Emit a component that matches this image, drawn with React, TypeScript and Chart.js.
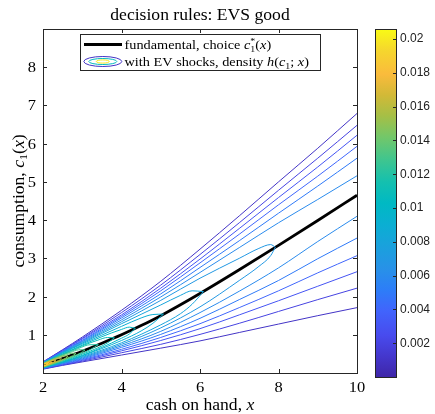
import React, { useEffect, useRef } from 'react';
import { Chart, registerables } from 'chart.js';

Chart.register(...registerables);

// ---------- axes ----------
const X_MIN = 2;
const X_MAX = 10;
const Y_MIN = 0;
const Y_MAX = 9;
const X_TICKS = [2, 4, 6, 8, 10];
const Y_TICKS = [1, 2, 3, 4, 5, 6, 7, 8];

// ---------- colorbar ----------
const CB_MIN = 0;
const CB_MAX = 0.0206;
const CB_TICKS = [0.002, 0.004, 0.006, 0.008, 0.01, 0.012, 0.014, 0.016, 0.018, 0.02];
const CB_TICK_LABELS = ['0.002', '0.004', '0.006', '0.008', '0.01', '0.012', '0.014', '0.016', '0.018', '0.02'];

// ---------- fundamental decision rule c1*(x) ----------
const FUND_X = [2, 2.5, 3, 3.5, 4, 4.5, 5, 6, 7, 8, 9, 10];
const FUND_Y = [0.20, 0.38, 0.57, 0.78, 1.00, 1.24, 1.50, 2.08, 2.70, 3.34, 3.99, 4.65];

// ---------- density contours h(c1; x) ----------
// contour levels
const LEVELS = [0.001, 0.002, 0.003, 0.004, 0.005, 0.006, 0.007, 0.008, 0.009, 0.010,
  0.011, 0.012, 0.013, 0.014, 0.015, 0.016, 0.017, 0.018, 0.019, 0.020];

// open contours (reach x = 10)
const X_OPEN = [2, 2.5, 3, 4, 5, 6, 7, 8, 9, 10];
const C1_UP = [0.29, 0.61, 0.94, 1.64, 2.40, 3.24, 4.11, 5.00, 5.88, 6.79];
const C1_LO = [0.10, 0.20, 0.29, 0.47, 0.65, 0.84, 1.06, 1.28, 1.50, 1.71];
const C2_UP = [0.29, 0.60, 0.91, 1.58, 2.30, 3.10, 3.93, 4.78, 5.62, 6.48];
const C2_LO = [0.11, 0.21, 0.31, 0.53, 0.75, 1.01, 1.30, 1.61, 1.92, 2.22];
const C3_UP = [0.28, 0.58, 0.89, 1.52, 2.22, 2.98, 3.78, 4.59, 5.39, 6.22];
const C3_LO = [0.11, 0.22, 0.33, 0.58, 0.85, 1.16, 1.52, 1.89, 2.27, 2.65];
const C4_UP = [0.28, 0.57, 0.86, 1.48, 2.15, 2.88, 3.63, 4.40, 5.15, 5.93];
const C4_LO = [0.12, 0.24, 0.35, 0.62, 0.93, 1.29, 1.71, 2.15, 2.62, 3.07];
const C5_UP = [0.27, 0.56, 0.84, 1.44, 2.07, 2.76, 3.46, 4.18, 4.89, 5.62];
const C5_LO = [0.12, 0.25, 0.37, 0.67, 1.01, 1.43, 1.92, 2.42, 2.99, 3.53];
const C6_UP = [0.27, 0.55, 0.82, 1.39, 1.99, 2.63, 3.28, 3.93, 4.54, 5.16];
const C6_LO = [0.13, 0.26, 0.39, 0.71, 1.09, 1.58, 2.14, 2.75, 3.44, 4.10];

// closed contours (tip on the fundamental rule)
const C7_X = [2, 2.5, 3, 4, 5, 6, 7, 7.5, 7.8, 7.92];
const C7_UP = [0.27, 0.54, 0.80, 1.34, 1.90, 2.48, 3.00, 3.26, 3.36, 3.29];
const C7_LO = [0.13, 0.27, 0.41, 0.75, 1.18, 1.73, 2.42, 2.79, 3.07, 3.29];
const C8_X = [2, 2.5, 3, 4, 5, 5.5, 5.8, 6.09];
const C8_UP = [0.26, 0.53, 0.78, 1.29, 1.78, 2.03, 2.15, 2.13];
const C8_LO = [0.13, 0.28, 0.43, 0.79, 1.26, 1.55, 1.80, 2.13];
const C9_X = [2, 2.5, 3, 4, 4.5, 4.8, 5.07];
const C9_UP = [0.26, 0.52, 0.76, 1.22, 1.44, 1.53, 1.54];
const C9_LO = [0.14, 0.28, 0.45, 0.85, 1.10, 1.30, 1.54];
const C10_X = [2, 2.5, 3, 3.5, 4, 4.2, 4.35];
const C10_UP = [0.26, 0.50, 0.73, 0.95, 1.14, 1.20, 1.17];
const C10_LO = [0.14, 0.29, 0.46, 0.67, 0.91, 1.02, 1.17];
const C11_X = [2, 2.5, 3, 3.4, 3.65, 3.82];
const C11_UP = [0.25, 0.49, 0.71, 0.86, 0.93, 0.92];
const C11_LO = [0.15, 0.30, 0.49, 0.66, 0.79, 0.92];
const C12_X = [2, 2.5, 2.9, 3.2, 3.41];
const C12_UP = [0.25, 0.48, 0.64, 0.74, 0.74];
const C12_LO = [0.15, 0.32, 0.47, 0.61, 0.74];
const C13_X = [2, 2.4, 2.75, 2.95, 3.07];
const C13_UP = [0.25, 0.43, 0.56, 0.61, 0.60];
const C13_LO = [0.15, 0.29, 0.43, 0.52, 0.60];
const C14_X = [2, 2.3, 2.6, 2.75, 2.84];
const C14_UP = [0.24, 0.38, 0.48, 0.52, 0.51];
const C14_LO = [0.16, 0.26, 0.38, 0.45, 0.51];
const C15_X = [2, 2.25, 2.45, 2.58, 2.64];
const C15_UP = [0.24, 0.35, 0.42, 0.45, 0.435];
const C15_LO = [0.16, 0.25, 0.33, 0.39, 0.435];
const C16_X = [2, 2.2, 2.35, 2.44, 2.47];
const C16_UP = [0.236, 0.32, 0.37, 0.384, 0.37];
const C16_LO = [0.166, 0.243, 0.305, 0.345, 0.37];
const C17_X = [2, 2.15, 2.27, 2.33];
const C17_UP = [0.232, 0.291, 0.326, 0.32];
const C17_LO = [0.171, 0.228, 0.283, 0.32];
const C18_X = [2, 2.12, 2.23];
const C18_UP = [0.227, 0.271, 0.285];
const C18_LO = [0.176, 0.225, 0.285];
const C19_X = [2, 2.08, 2.14];
const C19_UP = [0.221, 0.247, 0.25];
const C19_LO = [0.181, 0.217, 0.25];
const C20_X = [2, 2.03];
const C20_UP = [0.213, 0.211];
const C20_LO = [0.189, 0.211];

const CONTOURS: [number[], number[], number[]][] = [
  [X_OPEN, C1_UP, C1_LO], [X_OPEN, C2_UP, C2_LO], [X_OPEN, C3_UP, C3_LO],
  [X_OPEN, C4_UP, C4_LO], [X_OPEN, C5_UP, C5_LO], [X_OPEN, C6_UP, C6_LO],
  [C7_X, C7_UP, C7_LO], [C8_X, C8_UP, C8_LO], [C9_X, C9_UP, C9_LO],
  [C10_X, C10_UP, C10_LO], [C11_X, C11_UP, C11_LO], [C12_X, C12_UP, C12_LO],
  [C13_X, C13_UP, C13_LO], [C14_X, C14_UP, C14_LO], [C15_X, C15_UP, C15_LO],
  [C16_X, C16_UP, C16_LO], [C17_X, C17_UP, C17_LO], [C18_X, C18_UP, C18_LO],
  [C19_X, C19_UP, C19_LO], [C20_X, C20_UP, C20_LO],
];

// ---------- styling ----------
const PARULA: [number, number, number, number][] = [
  [0.00, 62, 38, 168], [0.06, 68, 55, 205], [0.12, 72, 75, 238], [0.19, 65, 100, 252],
  [0.25, 45, 125, 248], [0.31, 40, 145, 232], [0.38, 25, 162, 220], [0.44, 10, 175, 210],
  [0.50, 0, 185, 195], [0.56, 20, 192, 175], [0.62, 60, 197, 145], [0.69, 115, 199, 105],
  [0.75, 165, 191, 70], [0.81, 210, 185, 55], [0.87, 250, 187, 60], [0.94, 245, 215, 45],
  [1.00, 249, 251, 21],
];

function parula(t: number): string {
  const u = Math.max(0, Math.min(1, t));
  for (let i = 1; i < PARULA.length; i++) {
    if (u <= PARULA[i][0]) {
      const a = PARULA[i - 1];
      const b = PARULA[i];
      const f = (u - a[0]) / (b[0] - a[0]);
      const r = Math.round(a[1] + f * (b[1] - a[1]));
      const g = Math.round(a[2] + f * (b[2] - a[2]));
      const bb = Math.round(a[3] + f * (b[3] - a[3]));
      return `rgb(${r},${g},${bb})`;
    }
  }
  return 'rgb(249,251,21)';
}

const levelColor = (v: number) => parula((v - CB_MIN) / (CB_MAX - CB_MIN));

const SERIF = '"Liberation Serif", "Times New Roman", serif';
const SANS = '"Liberation Sans", Arial, sans-serif';
const STRETCH = 1.1;
const AXIS_COLOR = '#262626';

type Seg = { t: string; it?: boolean; size?: number; dy?: number; adv?: boolean };

function drawRich(ctx: CanvasRenderingContext2D, segs: Seg[], x: number, y: number, size: number, align: 'left' | 'center' | 'right') {
  const widths = segs.map((s) => {
    ctx.font = `${s.it ? 'italic ' : ''}${s.size ?? size}px ${SERIF}`;
    return ctx.measureText(s.t).width;
  });
  let w = 0;
  segs.forEach((s, i) => { if (s.adv !== false) w += widths[i]; });
  const total = w * STRETCH;
  const start = align === 'left' ? x : align === 'center' ? x - total / 2 : x - total;
  ctx.save();
  ctx.translate(start, y);
  ctx.scale(STRETCH, 1);
  ctx.textAlign = 'left';
  ctx.textBaseline = 'alphabetic';
  ctx.fillStyle = '#000';
  let cx = 0;
  segs.forEach((s, i) => {
    ctx.font = `${s.it ? 'italic ' : ''}${s.size ?? size}px ${SERIF}`;
    ctx.fillText(s.t, cx, s.dy ?? 0);
    if (s.adv !== false) cx += widths[i];
  });
  ctx.restore();
}

const decor = {
  id: 'decor',
  afterDraw(chart: any) {
    const ctx: CanvasRenderingContext2D = chart.ctx;
    const { left, right, top, bottom } = chart.chartArea;
    const xs = chart.scales.x;
    const ys = chart.scales.y;
    ctx.save();

    // axes box
    ctx.strokeStyle = AXIS_COLOR;
    ctx.lineWidth = 1;
    ctx.strokeRect(left + 0.5, top + 0.5, right - left, bottom - top);

    // ticks (inward, both sides)
    const TL = 4;
    ctx.beginPath();
    X_TICKS.forEach((v) => {
      const px = Math.round(xs.getPixelForValue(v)) + 0.5;
      ctx.moveTo(px, bottom); ctx.lineTo(px, bottom - TL);
      ctx.moveTo(px, top); ctx.lineTo(px, top + TL);
    });
    Y_TICKS.forEach((v) => {
      const py = Math.round(ys.getPixelForValue(v)) + 0.5;
      ctx.moveTo(left, py); ctx.lineTo(left + TL, py);
      ctx.moveTo(right, py); ctx.lineTo(right - TL, py);
    });
    ctx.stroke();

    // tick labels
    X_TICKS.forEach((v) => {
      drawRich(ctx, [{ t: String(v) }], xs.getPixelForValue(v), bottom + 19, 15, 'center');
    });
    Y_TICKS.forEach((v) => {
      drawRich(ctx, [{ t: String(v) }], left - 7, ys.getPixelForValue(v) + 5, 15, 'right');
    });

    // title
    drawRich(ctx, [{ t: 'decision rules: EVS good' }], (left + right) / 2, 20, 16, 'center');

    // x label
    drawRich(ctx, [{ t: 'cash on hand, ' }, { t: 'x', it: true }], (left + right) / 2, 410, 16, 'center');

    // y label (rotated)
    ctx.save();
    ctx.translate(24, (top + bottom) / 2);
    ctx.rotate(-Math.PI / 2);
    drawRich(ctx, [
      { t: 'consumption, ' }, { t: 'c', it: true }, { t: '1', size: 11, dy: 3 },
      { t: '(' }, { t: 'x', it: true }, { t: ')' },
    ], 0, 0, 16, 'center');
    ctx.restore();

    // legend
    const lx0 = 80.5, ly0 = 34.5, lw = 240, lh = 36;
    ctx.fillStyle = '#fff';
    ctx.fillRect(lx0, ly0, lw, lh);
    ctx.strokeStyle = AXIS_COLOR;
    ctx.lineWidth = 1;
    ctx.strokeRect(lx0, ly0, lw, lh);
    ctx.strokeStyle = '#000';
    ctx.lineWidth = 2.8;
    ctx.beginPath();
    ctx.moveTo(84, 44.5); ctx.lineTo(122, 44.5);
    ctx.stroke();
    ctx.lineWidth = 1;
    const ell = (rx: number, ry: number, col: string) => {
      ctx.strokeStyle = col;
      ctx.beginPath();
      ctx.ellipse(102.8, 61.5, rx, ry, 0, 0, Math.PI * 2);
      ctx.stroke();
    };
    ell(19, 5, levelColor(0.001));
    ell(14, 3, levelColor(0.0105));
    ell(6.5, 1.6, levelColor(0.020));
    drawRich(ctx, [
      { t: 'fundamental, choice ' }, { t: 'c', it: true },
      { t: '*', size: 9, dy: -5, adv: false }, { t: '1', size: 9, dy: 3 },
      { t: '(' }, { t: 'x', it: true }, { t: ')' },
    ], 124.5, 48.5, 13, 'left');
    drawRich(ctx, [
      { t: 'with EV shocks, density ' }, { t: 'h', it: true }, { t: '(' },
      { t: 'c', it: true }, { t: '1', size: 9, dy: 3 }, { t: '; ' },
      { t: 'x', it: true }, { t: ')' },
    ], 124.5, 66, 13, 'left');

    // colorbar
    const cbL = 375, cbR = 396, cbT = top, cbB = bottom + 4;
    const cbPix = (v: number) => cbB - ((v - CB_MIN) / (CB_MAX - CB_MIN)) * (cbB - cbT);
    const grad = ctx.createLinearGradient(0, cbB, 0, cbT);
    PARULA.forEach((s) => grad.addColorStop(s[0], `rgb(${s[1]},${s[2]},${s[3]})`));
    ctx.fillStyle = grad;
    ctx.fillRect(cbL, cbT, cbR - cbL, cbB - cbT);
    ctx.strokeStyle = AXIS_COLOR;
    ctx.lineWidth = 1;
    ctx.strokeRect(cbL + 0.5, cbT + 0.5, cbR - cbL, cbB - cbT);
    ctx.beginPath();
    CB_TICKS.forEach((v) => {
      const py = Math.round(cbPix(v)) + 0.5;
      ctx.moveTo(cbR, py); ctx.lineTo(cbR - 3, py);
    });
    ctx.stroke();
    ctx.fillStyle = '#222';
    ctx.font = `12px ${SANS}`;
    ctx.textAlign = 'left';
    ctx.textBaseline = 'middle';
    CB_TICKS.forEach((v, i) => {
      ctx.fillText(CB_TICK_LABELS[i], 400, cbPix(v));
    });

    ctx.restore();
  },
};

function buildDatasets() {
  const ds: any[] = [];
  // highest level first so it is drawn on top
  for (let k = CONTOURS.length - 1; k >= 0; k--) {
    const [xsArr, up, lo] = CONTOURS[k];
    const col = levelColor(LEVELS[k]);
    [up, lo].forEach((ys) => {
      ds.push({
        data: xsArr.map((x, i) => ({ x, y: ys[i] })),
        borderColor: col,
        borderWidth: 1,
        pointRadius: 0,
        fill: false,
        cubicInterpolationMode: 'monotone',
      });
    });
  }
  ds.push({
    data: FUND_X.map((x, i) => ({ x, y: FUND_Y[i] })),
    borderColor: '#000',
    borderWidth: 2.8,
    pointRadius: 0,
    fill: false,
    cubicInterpolationMode: 'monotone',
  });
  return ds;
}

export default function App() {
  const ref = useRef<HTMLCanvasElement>(null);
  useEffect(() => {
    document.body.style.margin = '0';
    const chart = new Chart(ref.current as HTMLCanvasElement, {
      type: 'line',
      data: { datasets: buildDatasets() },
      options: {
        animation: false,
        responsive: false,
        devicePixelRatio: 1,
        layout: { padding: { left: 0, top: 29, right: 78, bottom: 0 } },
        plugins: { legend: { display: false }, tooltip: { enabled: false }, title: { display: false } },
        scales: {
          x: {
            type: 'linear', min: X_MIN, max: X_MAX,
            grid: { display: false }, border: { display: false },
            ticks: { display: false },
            afterBuildTicks: (s: any) => { s.ticks = X_TICKS.map((v) => ({ value: v })); },
            afterFit: (s: any) => { s.height = 41; },
          },
          y: {
            type: 'linear', min: Y_MIN, max: Y_MAX,
            grid: { display: false }, border: { display: false },
            ticks: { display: false },
            afterBuildTicks: (s: any) => { s.ticks = Y_TICKS.map((v) => ({ value: v })); },
            afterFit: (s: any) => { s.width = 43; },
          },
        },
      } as any,
      plugins: [decor],
    });
    return () => chart.destroy();
  }, []);
  return (
    <div style={{ width: 435, height: 414, background: '#fff' }}>
      <canvas ref={ref} width={435} height={414} style={{ display: 'block' }} />
    </div>
  );
}
